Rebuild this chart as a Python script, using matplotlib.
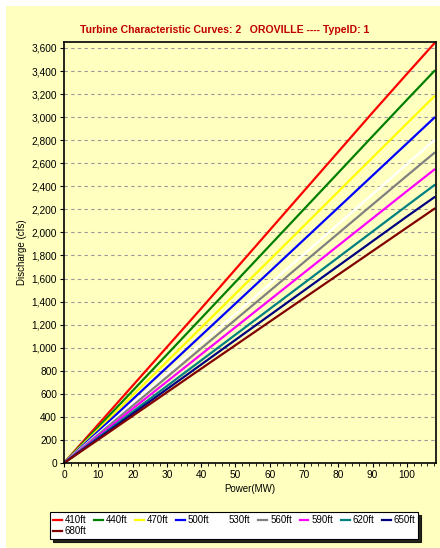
import matplotlib
matplotlib.use("Agg")
import matplotlib.pyplot as plt
from matplotlib.lines import Line2D
from matplotlib.patches import Rectangle
from matplotlib.ticker import MultipleLocator, StrMethodFormatter

plt.rcParams["font.family"] = ["Liberation Sans", "DejaVu Sans"]

# power (MW) where the curves were read
power = [0, 10, 20, 30, 40, 50, 60, 70, 80, 90, 100, 108]

# discharge (cfs) for each head
heads = ["410ft", "440ft", "470ft", "500ft", "530ft",
         "560ft", "590ft", "620ft", "650ft", "680ft"]
q410 = [0, 335, 670, 1005, 1340, 1680, 2020, 2360, 2700, 3040, 3375, 3640]
q440 = [0, 312, 626, 940, 1255, 1570, 1886, 2202, 2518, 2835, 3150, 3400]
q470 = [0, 292, 586, 880, 1174, 1468, 1762, 2058, 2354, 2650, 2945, 3180]
q500 = [0, 275, 552, 829, 1106, 1383, 1660, 1938, 2216, 2494, 2772, 2995]
q530 = [0, 257, 516, 775, 1034, 1293, 1552, 1812, 2072, 2332, 2592, 2800]
q560 = [0, 247, 496, 745, 994, 1243, 1492, 1742, 1992, 2242, 2492, 2690]
q590 = [0, 234, 470, 706, 942, 1178, 1414, 1650, 1886, 2122, 2358, 2545]
q620 = [0, 221, 444, 667, 890, 1113, 1336, 1560, 1784, 2008, 2232, 2410]
q650 = [0, 212, 426, 640, 854, 1068, 1282, 1496, 1710, 1924, 2138, 2305]
q680 = [0, 203, 408, 613, 818, 1022, 1226, 1430, 1634, 1838, 2042, 2205]
discharge = [q410, q440, q470, q500, q530, q560, q590, q620, q650, q680]

colors = ["#ff0000", "#008000", "#ffff00", "#0000ff", "#ffffff",
          "#808080", "#ff00ff", "#008080", "#000080", "#800000"]

bg = "#ffffc0"
title_color = "#c00000"

fig = plt.figure(figsize=(4.4, 5.48), dpi=100, facecolor="white")
fig.patches.append(Rectangle((6 / 440, 0), 434 / 440, 542 / 548,
                             transform=fig.transFigure, facecolor=bg,
                             edgecolor="none", zorder=-5))

ax = fig.add_axes([64 / 440, 1 - 463 / 548, 372 / 440, 421 / 548])
ax.set_facecolor(bg)

handles = []
for name, q, c in zip(heads, discharge, colors):
    h, = ax.plot(power, q, color=c, linewidth=1.6, label=name)
    handles.append(h)

ax.set_xlim(0, 108.5)
ax.set_ylim(0, 3652)
ax.yaxis.set_major_locator(MultipleLocator(200))
ax.yaxis.set_major_formatter(StrMethodFormatter("{x:,.0f}"))
ax.xaxis.set_major_locator(MultipleLocator(10))
ax.xaxis.set_minor_locator(MultipleLocator(2))
ax.grid(axis="y", color="#999999", linestyle=(0, (3, 3)), linewidth=0.8)
ax.tick_params(axis="both", labelsize=7.3, length=3, width=0.8, pad=2)
ax.tick_params(axis="x", which="minor", length=2, width=0.6)
for side in ax.spines.values():
    side.set_linewidth(1.2)

# title is centred on the whole panel, not on the axes
fig.text(225 / 440, 1 - 30 / 548,
         "Turbine Characteristic Curves: 2   OROVILLE ---- TypeID: 1",
         fontsize=7.6, fontweight="bold", color=title_color,
         ha="center", va="center")
ax.set_ylabel("Discharge (cfs)", fontsize=7, labelpad=3)
ax.set_xlabel("Power(MW)", fontsize=7, labelpad=3)

# legend fills column-major, so interleave blanks to get a 9 + 1 layout
blank = Line2D([], [], linestyle="none")
order = []
for i in range(9):
    order.append((handles[i], heads[i]))
    if i == 0:
        order.append((handles[9], heads[9]))
    else:
        order.append((blank, ""))
leg = fig.legend([o[0] for o in order], [o[1] for o in order], ncol=9,
                 loc="upper left", bbox_to_anchor=(50 / 440, 1 - 512 / 548),
                 fontsize=7, frameon=True, fancybox=False,
                 shadow={"color": "black", "alpha": 0.85},
                 handlelength=0.9, handletextpad=0.3, columnspacing=0.8,
                 labelspacing=0.15, borderpad=0.3, borderaxespad=0)
leg.get_frame().set_edgecolor("black")
leg.get_frame().set_linewidth(0.8)

fig.savefig("out.png", dpi=100, facecolor=fig.get_facecolor())
